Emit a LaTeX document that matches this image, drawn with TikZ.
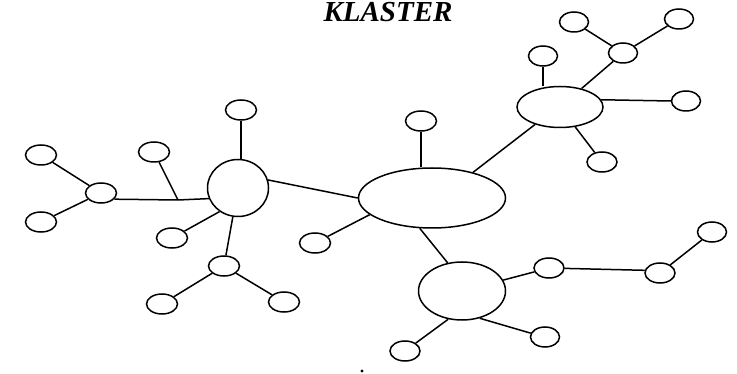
\documentclass[tikz,border=0pt]{standalone}
\usepackage{fontspec}
\setmainfont{Liberation Serif}
\usetikzlibrary{shapes.geometric}
\begin{document}
\begin{tikzpicture}[x=1pt,y=-1pt,
  line width=1.5pt,
  sm/.style={draw,ellipse,inner sep=0pt,minimum width=31pt,minimum height=20pt},
  hub/.style={draw,ellipse,inner sep=0pt},
  link/.style={line width=1.5pt}]
\useasboundingbox (0,0) rectangle (737,374);
\node[anchor=base,inner sep=0pt,font=\fontsize{29}{29}\selectfont\bfseries\itshape] (title) at (388,21.5) {KLASTER};
% left cluster
\node[hub,minimum width=61pt,minimum height=57pt] (hubL) at (238,188) {};
\node[sm] (lT) at (241,110) {};
\node[sm] (lUS) at (154,152) {};
\node[sm] (ml) at (101,193) {};
\node[sm] (flT) at (41,155) {};
\node[sm] (flB) at (41,222) {};
\node[sm] (lLL) at (172,238) {};
\node[sm] (lD) at (224,266) {};
\node[sm] (lDL) at (162,304) {};
\node[sm] (lDR) at (284,302) {};
\coordinate (j) at (178,200);
% centre
\node[hub,minimum width=147pt,minimum height=60pt] (hubC) at (432,198) {};
\node[sm] (cT) at (421,121) {};
\node[sm] (cLL) at (315,243) {};
% right top cluster
\node[hub,minimum width=86pt,minimum height=41pt] (hubR) at (560,107) {};
\node[sm,minimum width=29pt] (rT) at (543,56) {};
\node[sm,minimum width=29pt] (rM) at (623,53) {};
\node[sm,minimum width=29pt] (rTL) at (574,22) {};
\node[sm,minimum width=29pt] (rTR) at (679,19) {};
\node[sm,minimum width=29pt] (rR) at (686,101) {};
\node[sm,minimum width=30pt] (rB) at (602,162) {};
% bottom right cluster
\node[hub,minimum width=87pt,minimum height=58pt] (hubB) at (462,291) {};
\node[sm,minimum width=30pt] (bR) at (549,268) {};
\node[sm,minimum width=30pt] (bFR) at (660,273) {};
\node[sm,minimum width=29pt] (bFT) at (712,232) {};
\node[sm,minimum width=30pt] (bBL) at (405,351) {};
\node[sm,minimum width=29pt] (bBR) at (545,337) {};
% connectors
\draw[link] (lT.south) -- (lT.south |- hubL.north);
\draw[link] (ml.-25) -- (j) -- (hubL.200);
\draw[link] (lUS) -- (j);
\draw[link] (flT) -- (ml);
\draw[link] (flB) -- (ml);
\draw[link] (lLL) -- (hubL.232);
\draw[link] (hubL) -- (lD);
\draw[link] (lD) -- (lDL);
\draw[link] (lD) -- (lDR);
\draw[link] (hubL.15) -- (hubC.180);
\draw[link] (cT.south) -- (cT.south |- hubC.north);
\draw[link] (cLL) -- (hubC.195);
\draw[link] (hubC.32) -- (hubR.215);
\draw[link] (hubC.248) -- (hubB.117);
\draw[link] (rT.south) -- (rT.south |- hubR.north);
\draw[link] (hubR) -- (rM);
\draw[link] (rM) -- (rTL);
\draw[link] (rM) -- (rTR);
\draw[link] (hubR.10) -- (rR.west);
\draw[link] (hubR) -- (rB);
\draw[link] (hubB) -- (bR);
\draw[link] (bR) -- (bFR.170);
\draw[link] (bFR) -- (bFT);
\draw[link] (bBL) -- (hubB.244);
\draw[link] (hubB.-57) -- (bBR.165);
\fill (362,371) circle (1.6pt);
\end{tikzpicture}
\end{document}
